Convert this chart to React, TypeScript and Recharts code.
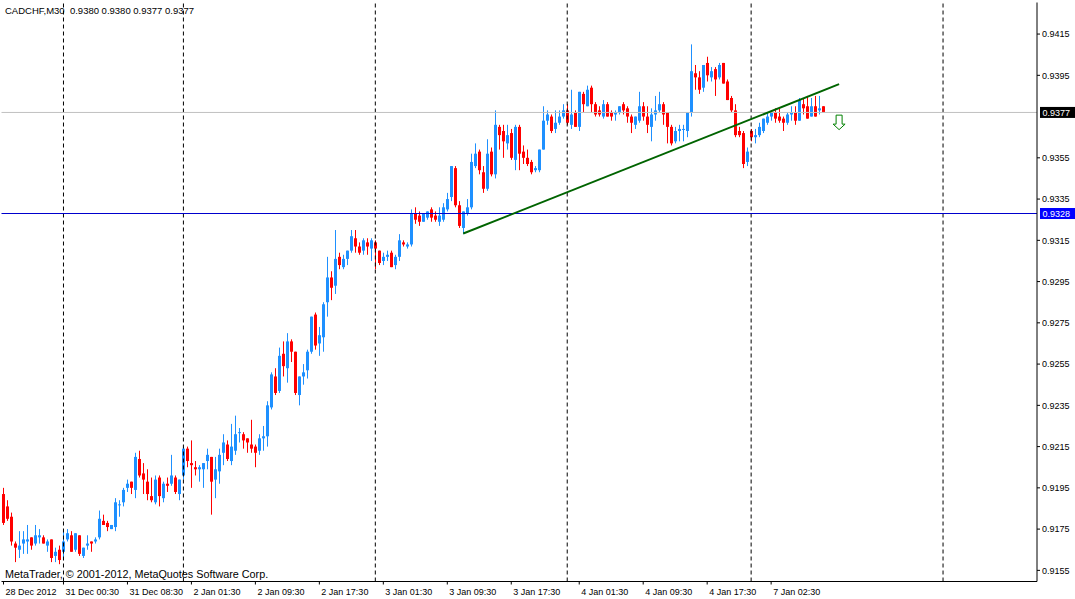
import { ComposedChart, Bar, XAxis, YAxis, ReferenceLine, ReferenceDot } from 'recharts'

// CADCHF M30 candles, oldest first
const OPEN = [
  0.9192, 0.9186, 0.9181, 0.9168, 0.9165, 0.9168, 0.9169, 0.9171, 0.9168, 0.9171,
  0.9171, 0.9167, 0.9170, 0.9162, 0.9165, 0.9164, 0.9170, 0.9172, 0.9165, 0.9172,
  0.9162, 0.9167, 0.9169, 0.9169, 0.9171, 0.9179, 0.9178, 0.9175, 0.9176, 0.9187,
  0.9188, 0.9195, 0.9198, 0.9194, 0.9209, 0.9202, 0.9198, 0.9191, 0.9188, 0.9200,
  0.9190, 0.9197, 0.9197, 0.9200, 0.9192, 0.9201, 0.9214, 0.9207, 0.9205, 0.9204,
  0.9204, 0.9208, 0.9210, 0.9199, 0.9203, 0.9212, 0.9216, 0.9208, 0.9213, 0.9222,
  0.9221, 0.9219, 0.9216, 0.9215, 0.9213, 0.9219, 0.9220, 0.9234, 0.9249, 0.9242,
  0.9260, 0.9253, 0.9266, 0.9261, 0.9240, 0.9249, 0.9252, 0.9261, 0.9279, 0.9265,
  0.9268, 0.9285, 0.9297, 0.9293, 0.9307, 0.9302, 0.9306, 0.9310, 0.9316, 0.9312,
  0.9310, 0.9314, 0.9311, 0.9314, 0.9310, 0.9305, 0.9307, 0.9309, 0.9303, 0.9307,
  0.9314, 0.9312, 0.9313, 0.9328, 0.9327, 0.9324, 0.9326, 0.9330, 0.9327, 0.9324,
  0.9325, 0.9330, 0.9336, 0.9350, 0.9332, 0.9321, 0.9328, 0.9331, 0.9351, 0.9358,
  0.9348, 0.9340, 0.9358, 0.9347, 0.9370, 0.9368, 0.9362, 0.9367, 0.9354, 0.9370,
  0.9358, 0.9355, 0.9353, 0.9349, 0.9349, 0.9359, 0.9373, 0.9375, 0.9369, 0.9372,
  0.9375, 0.9378, 0.9371, 0.9377, 0.9370, 0.9386, 0.9380, 0.9389, 0.9381, 0.9378,
  0.9375, 0.9381, 0.9377, 0.9376, 0.9377, 0.9381, 0.9379, 0.9375, 0.9371, 0.9373,
  0.9380, 0.9375, 0.9370, 0.9376, 0.9378, 0.9381, 0.9377, 0.9370, 0.9363, 0.9368,
  0.9369, 0.9368, 0.9377, 0.9396, 0.9394, 0.9389, 0.9401, 0.9394, 0.9398, 0.9394,
  0.9401, 0.9392, 0.9384, 0.9378, 0.9368, 0.9367, 0.9353, 0.9368, 0.9365, 0.9366,
  0.9368, 0.9372, 0.9375, 0.9377, 0.9375, 0.9374, 0.9372, 0.9376, 0.9377, 0.9373,
  0.9381, 0.9380, 0.9375, 0.9380, 0.9378, 0.9380,
]

const HIGH = [
  0.9195, 0.9189, 0.9183, 0.9169, 0.9174, 0.9174, 0.9177, 0.9171, 0.9177, 0.9175,
  0.9172, 0.9170, 0.9170, 0.9166, 0.9167, 0.9174, 0.9175, 0.9174, 0.9173, 0.9172,
  0.9166, 0.9172, 0.9169, 0.9171, 0.9184, 0.9182, 0.9179, 0.9177, 0.9190, 0.9189,
  0.9195, 0.9199, 0.9198, 0.9212, 0.9213, 0.9207, 0.9204, 0.9200, 0.9201, 0.9201,
  0.9198, 0.9200, 0.9211, 0.9201, 0.9199, 0.9215, 0.9215, 0.9218, 0.9208, 0.9206,
  0.9207, 0.9214, 0.9210, 0.9210, 0.9214, 0.9221, 0.9218, 0.9226, 0.9230, 0.9224,
  0.9222, 0.9219, 0.9228, 0.9216, 0.9221, 0.9225, 0.9237, 0.9251, 0.9253, 0.9263,
  0.9266, 0.9270, 0.9267, 0.9261, 0.9249, 0.9255, 0.9262, 0.9278, 0.9280, 0.9273,
  0.9285, 0.9307, 0.9300, 0.9320, 0.9309, 0.9308, 0.9310, 0.9320, 0.9320, 0.9314,
  0.9316, 0.9316, 0.9316, 0.9315, 0.9310, 0.9309, 0.9310, 0.9310, 0.9308, 0.9318,
  0.9315, 0.9314, 0.9330, 0.9331, 0.9329, 0.9328, 0.9329, 0.9331, 0.9329, 0.9331,
  0.9333, 0.9338, 0.9351, 0.9351, 0.9334, 0.9329, 0.9335, 0.9357, 0.9362, 0.9359,
  0.9351, 0.9364, 0.9360, 0.9378, 0.9371, 0.9371, 0.9371, 0.9369, 0.9371, 0.9371,
  0.9361, 0.9359, 0.9354, 0.9351, 0.9359, 0.9380, 0.9378, 0.9376, 0.9378, 0.9378,
  0.9381, 0.9381, 0.9388, 0.9378, 0.9387, 0.9387, 0.9390, 0.9390, 0.9382, 0.9380,
  0.9383, 0.9382, 0.9378, 0.9378, 0.9380, 0.9382, 0.9380, 0.9376, 0.9375, 0.9387,
  0.9382, 0.9380, 0.9379, 0.9385, 0.9387, 0.9382, 0.9377, 0.9371, 0.9370, 0.9371,
  0.9371, 0.9377, 0.9410, 0.9400, 0.9397, 0.9400, 0.9404, 0.9399, 0.9399, 0.9401,
  0.9401, 0.9393, 0.9385, 0.9381, 0.9370, 0.9368, 0.9360, 0.9369, 0.9369, 0.9372,
  0.9374, 0.9377, 0.9378, 0.9379, 0.9379, 0.9375, 0.9377, 0.9380, 0.9380, 0.9384,
  0.9384, 0.9385, 0.9384, 0.9385, 0.9385, 0.9380,
]

const LOW = [
  0.9177, 0.9179, 0.9167, 0.9159, 0.9161, 0.9163, 0.9163, 0.9165, 0.9167, 0.9168,
  0.9168, 0.9164, 0.9159, 0.9159, 0.9158, 0.9160, 0.9169, 0.9164, 0.9164, 0.9162,
  0.9161, 0.9165, 0.9164, 0.9168, 0.9170, 0.9177, 0.9174, 0.9175, 0.9174, 0.9181,
  0.9186, 0.9193, 0.9192, 0.9190, 0.9200, 0.9192, 0.9189, 0.9188, 0.9187, 0.9186,
  0.9188, 0.9193, 0.9196, 0.9192, 0.9189, 0.9199, 0.9205, 0.9195, 0.9201, 0.9198,
  0.9195, 0.9204, 0.9182, 0.9190, 0.9197, 0.9206, 0.9208, 0.9206, 0.9211, 0.9217,
  0.9214, 0.9212, 0.9212, 0.9205, 0.9211, 0.9213, 0.9215, 0.9233, 0.9240, 0.9241,
  0.9249, 0.9246, 0.9256, 0.9240, 0.9235, 0.9245, 0.9248, 0.9260, 0.9262, 0.9259,
  0.9261, 0.9278, 0.9286, 0.9289, 0.9301, 0.9301, 0.9303, 0.9309, 0.9309, 0.9308,
  0.9308, 0.9308, 0.9305, 0.9301, 0.9303, 0.9303, 0.9305, 0.9302, 0.9301, 0.9305,
  0.9312, 0.9311, 0.9312, 0.9323, 0.9322, 0.9324, 0.9325, 0.9324, 0.9324, 0.9322,
  0.9324, 0.9329, 0.9334, 0.9331, 0.9321, 0.9318, 0.9327, 0.9330, 0.9350, 0.9347,
  0.9338, 0.9339, 0.9346, 0.9345, 0.9359, 0.9355, 0.9359, 0.9354, 0.9349, 0.9349,
  0.9352, 0.9351, 0.9347, 0.9348, 0.9348, 0.9359, 0.9371, 0.9367, 0.9367, 0.9371,
  0.9374, 0.9371, 0.9369, 0.9370, 0.9368, 0.9377, 0.9380, 0.9377, 0.9375, 0.9375,
  0.9374, 0.9375, 0.9373, 0.9373, 0.9376, 0.9376, 0.9372, 0.9367, 0.9369, 0.9372,
  0.9373, 0.9367, 0.9363, 0.9373, 0.9377, 0.9371, 0.9362, 0.9361, 0.9362, 0.9363,
  0.9363, 0.9365, 0.9375, 0.9388, 0.9386, 0.9387, 0.9392, 0.9392, 0.9385, 0.9393,
  0.9391, 0.9383, 0.9377, 0.9365, 0.9365, 0.9350, 0.9351, 0.9363, 0.9362, 0.9365,
  0.9367, 0.9371, 0.9373, 0.9372, 0.9372, 0.9368, 0.9371, 0.9373, 0.9371, 0.9373,
  0.9376, 0.9374, 0.9375, 0.9375, 0.9376, 0.9377,
]

const CLOSE = [
  0.9178, 0.9180, 0.9169, 0.9166, 0.9167, 0.9170, 0.9170, 0.9167, 0.9172, 0.9172,
  0.9168, 0.9169, 0.9161, 0.9164, 0.9160, 0.9169, 0.9173, 0.9164, 0.9173, 0.9163,
  0.9166, 0.9168, 0.9168, 0.9170, 0.9180, 0.9177, 0.9176, 0.9177, 0.9188, 0.9187,
  0.9194, 0.9197, 0.9195, 0.9210, 0.9201, 0.9199, 0.9192, 0.9189, 0.9199, 0.9191,
  0.9197, 0.9196, 0.9201, 0.9193, 0.9199, 0.9214, 0.9208, 0.9206, 0.9204, 0.9205,
  0.9207, 0.9211, 0.9198, 0.9204, 0.9211, 0.9217, 0.9209, 0.9215, 0.9221, 0.9222,
  0.9218, 0.9217, 0.9214, 0.9212, 0.9219, 0.9220, 0.9235, 0.9250, 0.9241, 0.9259,
  0.9254, 0.9266, 0.9261, 0.9241, 0.9249, 0.9251, 0.9261, 0.9278, 0.9264, 0.9269,
  0.9284, 0.9297, 0.9292, 0.9306, 0.9303, 0.9306, 0.9310, 0.9317, 0.9312, 0.9309,
  0.9315, 0.9312, 0.9315, 0.9311, 0.9304, 0.9307, 0.9308, 0.9302, 0.9307, 0.9315,
  0.9313, 0.9313, 0.9328, 0.9325, 0.9324, 0.9328, 0.9329, 0.9326, 0.9325, 0.9327,
  0.9331, 0.9335, 0.9351, 0.9332, 0.9322, 0.9329, 0.9331, 0.9353, 0.9357, 0.9349,
  0.9340, 0.9357, 0.9347, 0.9371, 0.9366, 0.9363, 0.9366, 0.9355, 0.9370, 0.9357,
  0.9355, 0.9352, 0.9348, 0.9350, 0.9359, 0.9373, 0.9376, 0.9368, 0.9372, 0.9375,
  0.9378, 0.9372, 0.9376, 0.9370, 0.9387, 0.9381, 0.9388, 0.9381, 0.9376, 0.9376,
  0.9381, 0.9375, 0.9375, 0.9377, 0.9380, 0.9378, 0.9375, 0.9372, 0.9375, 0.9380,
  0.9375, 0.9371, 0.9376, 0.9378, 0.9381, 0.9376, 0.9370, 0.9362, 0.9368, 0.9369,
  0.9369, 0.9377, 0.9397, 0.9394, 0.9388, 0.9400, 0.9395, 0.9397, 0.9393, 0.9400,
  0.9391, 0.9383, 0.9378, 0.9366, 0.9366, 0.9352, 0.9358, 0.9365, 0.9366, 0.9370,
  0.9374, 0.9375, 0.9377, 0.9374, 0.9373, 0.9372, 0.9376, 0.9377, 0.9373, 0.9383,
  0.9379, 0.9374, 0.9380, 0.9375, 0.9379, 0.9377,
]

// total bar slots on screen (candles + empty space to the right)
const SLOTS = 259

const DATE_TICKS = [0, 15, 31, 47, 63, 79, 95, 111, 127, 144, 160, 176, 192]
const DATE_LABELS = [
  '28 Dec 2012', '31 Dec 00:30', '31 Dec 08:30', '2 Jan 01:30', '2 Jan 09:30',
  '2 Jan 17:30', '3 Jan 01:30', '3 Jan 09:30', '3 Jan 17:30', '4 Jan 01:30',
  '4 Jan 09:30', '4 Jan 17:30', '7 Jan 02:30',
]

const DAY_SEPARATORS = [15, 45, 93, 141, 187, 235]

const PRICE_TICKS = [
  0.9155, 0.9175, 0.9195, 0.9215, 0.9235, 0.9255, 0.9275, 0.9295,
  0.9315, 0.9335, 0.9355, 0.9395, 0.9415,
]
const PRICE_DOMAIN = [0.91496, 0.94303]

const BID = 0.9377
const HLINE = 0.9328
const TREND = [
  { x: 115, y: 0.93183 },
  { x: 209, y: 0.93907 },
]
const SIGNAL = { x: 209, y: 0.93723 }

const BULL = '#1E90FF'
const BEAR = '#FF0000'
const FONT = '"Liberation Sans", Arial, sans-serif'

const data = Array.from({ length: SLOTS }, (_, i) => ({
  i,
  o: OPEN[i],
  h: HIGH[i],
  l: LOW[i],
  c: CLOSE[i],
}))

const lastBar = OPEN.length - 1
const HEADER = `CADCHF,M30  ${OPEN[lastBar].toFixed(4)} ${HIGH[lastBar].toFixed(4)} ${LOW[lastBar].toFixed(4)} ${CLOSE[lastBar].toFixed(4)}`

function Candle(props: any) {
  const { x, y, width, height, payload } = props
  if (!payload || payload.o == null) return null
  const { o, h, l, c } = payload
  const top = Math.min(y, y + height)
  const span = Math.abs(height)
  const py = (p: number) => (h === l ? top : top + ((h - p) / (h - l)) * span)
  const cx = Math.floor(x + width / 2) + 0.5
  const color = c >= o ? BULL : BEAR
  const b1 = py(Math.max(o, c))
  const b2 = py(Math.min(o, c))
  return (
    <g>
      <line x1={cx} x2={cx} y1={top} y2={top + span} stroke={color} strokeWidth={1} />
      <rect x={cx - 1.5} y={b1} width={3} height={Math.max(b2 - b1, 1)} fill={color} />
    </g>
  )
}

function DateTick(props: any) {
  const { x, y, payload } = props
  const idx = DATE_TICKS.indexOf(payload.value)
  return (
    <text x={x + 2} y={y} dy={8} fontSize={9} fontFamily={FONT} fill="#000" textAnchor="start">
      {DATE_LABELS[idx]}
    </text>
  )
}

function PriceTick(props: any) {
  const { x, y, payload } = props
  return (
    <text x={x} y={y} dy={3.3} fontSize={9} fontFamily={FONT} fill="#000" textAnchor="start">
      {Number(payload.value).toFixed(4)}
    </text>
  )
}

function PriceTag(props: any) {
  const { viewBox, text, bg } = props
  if (!viewBox) return null
  const x = viewBox.x + viewBox.width + 3
  const y = viewBox.y
  return (
    <g>
      <rect x={x} y={y - 5.5} width={36} height={11} fill={bg} />
      <text x={x + 2.5} y={y + 3.3} fontSize={9} fontFamily={FONT} fill="#fff">
        {text}
      </text>
    </g>
  )
}

function DownArrow(props: any) {
  const { cx, cy } = props
  const d = `M${cx - 3},${cy - 7} H${cx + 3} V${cy + 2} H${cx + 6} L${cx},${cy + 7.5} L${cx - 6},${cy + 2} H${cx - 3} Z`
  return <path d={d} fill="#fff" stroke="#008000" strokeWidth={1} />
}

export default function App() {
  return (
    <div style={{ position: 'absolute', left: 0, top: 0, width: 1075, height: 599, background: '#fff' }}>
      <ComposedChart
        width={1075}
        height={599}
        data={data}
        margin={{ top: 2.5, right: 0, bottom: 0, left: 1.5 }}
        barCategoryGap={0}
      >
        <XAxis
          xAxisId="t"
          dataKey="i"
          type="category"
          ticks={DATE_TICKS}
          interval={0}
          height={17.5}
          tickSize={3}
          tickMargin={2}
          axisLine={{ stroke: '#000' }}
          tickLine={{ stroke: '#000' }}
          tick={<DateTick />}
        />
        <XAxis xAxisId="top" dataKey="i" type="category" orientation="top" height={0} tick={false} tickLine={false} axisLine={{ stroke: '#000' }} />
        <YAxis
          yAxisId="p"
          orientation="right"
          type="number"
          domain={PRICE_DOMAIN}
          allowDataOverflow
          ticks={PRICE_TICKS}
          width={38}
          tickSize={3}
          tickMargin={2}
          axisLine={{ stroke: '#000' }}
          tickLine={{ stroke: '#000' }}
          tick={<PriceTick />}
        />
        <YAxis yAxisId="left" orientation="left" type="number" domain={PRICE_DOMAIN} width={0} tick={false} tickLine={false} axisLine={{ stroke: '#000' }} />

        {DAY_SEPARATORS.map((n) => (
          <ReferenceLine key={n} xAxisId="t" yAxisId="p" x={n} stroke="#000" strokeDasharray="4 3" />
        ))}

        <Bar
          xAxisId="t"
          yAxisId="p"
          dataKey={(d: any) => (d.o == null ? null : [d.l, d.h])}
          shape={<Candle />}
          isAnimationActive={false}
        />

        <ReferenceLine xAxisId="t" yAxisId="p" y={BID} stroke="#C0C0C0" label={<PriceTag text={BID.toFixed(4)} bg="#000" />} />
        <ReferenceLine xAxisId="t" yAxisId="p" y={HLINE} stroke="#0000CD" label={<PriceTag text={HLINE.toFixed(4)} bg="#0000FF" />} />
        <ReferenceLine xAxisId="t" yAxisId="p" segment={TREND} stroke="#006400" strokeWidth={2} />
        <ReferenceDot xAxisId="t" yAxisId="p" x={SIGNAL.x} y={SIGNAL.y} r={6} shape={<DownArrow />} />
      </ComposedChart>
      <svg width={1075} height={599} style={{ position: 'absolute', left: 0, top: 0, pointerEvents: 'none' }}>
        <text x={5} y={13.5} fontSize={9.5} fontFamily={FONT} fill="#000" style={{ whiteSpace: 'pre' }}>
          {HEADER}
        </text>
        <text x={5} y={578} fontSize={10.8} fontFamily={FONT} fill="#000">
          MetaTrader, © 2001-2012, MetaQuotes Software Corp.
        </text>
      </svg>
    </div>
  )
}
